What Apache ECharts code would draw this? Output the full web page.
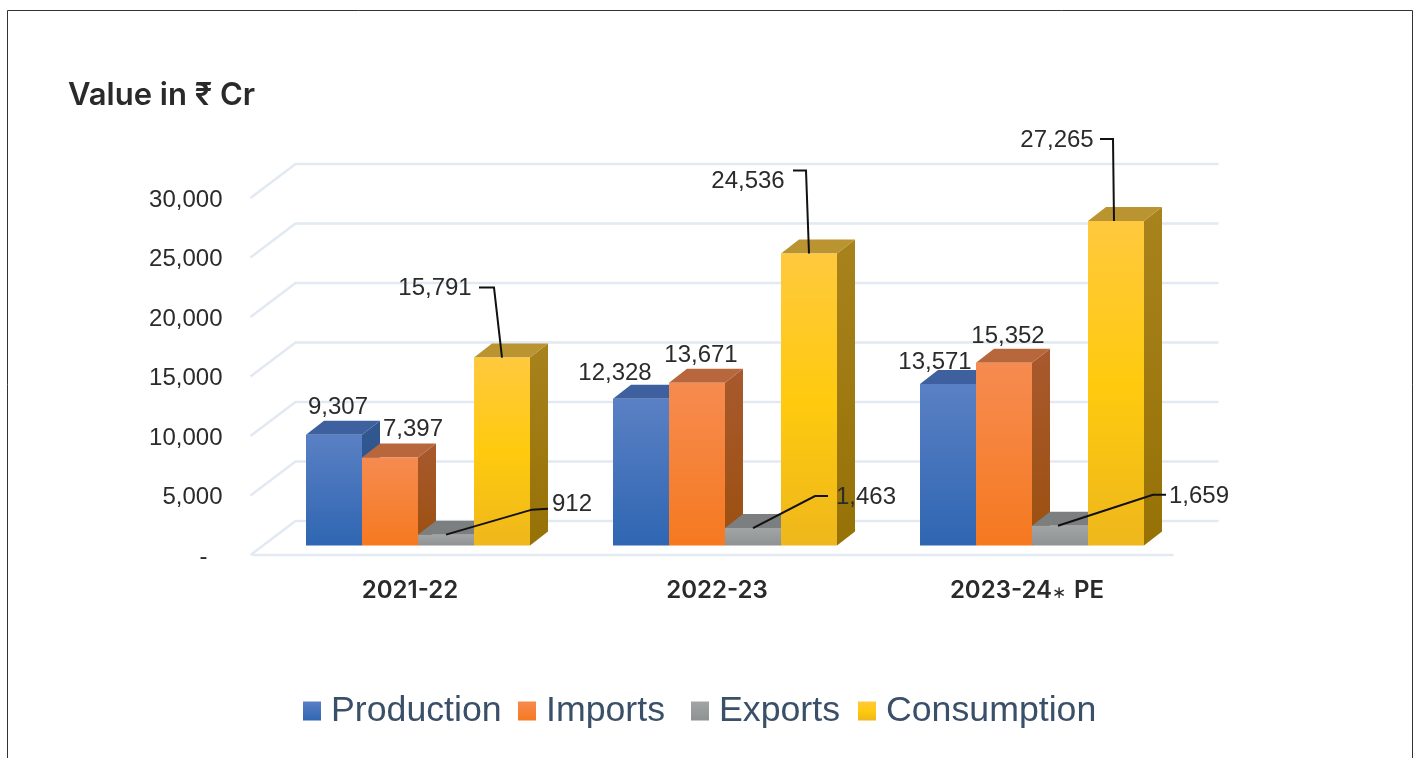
<!DOCTYPE html>
<html><head><meta charset="utf-8">
<style>html,body{margin:0;padding:0;background:#fff}#c{width:1419px;height:758px}</style>
<script src="https://cdn.jsdelivr.net/npm/echarts@6/dist/echarts.min.js"></script>
</head><body><div id="c"></div>
<script>
const categories = ['2021-22', '2022-23', '2023-24* PE'];
const seriesNames = ['Production', 'Imports', 'Exports', 'Consumption'];
const production = [9307, 12328, 13571];
const imports = [7397, 13671, 15352];
const exportsData = [912, 1463, 1659];
const consumption = [15791, 24536, 27265];
const yTicks = [0, 5000, 10000, 15000, 20000, 25000, 30000];

// layout only: label offset from a bar's front-top centre, and leader-line points
const labelOffset = [
  [[4,-27],[-26,-25],[-13,-22]],
  [[23,-28],[4,-27],[4,-26]],
  [[126,-30],[113,-31],[139,-29]],
  [[-67,-69],[-61,-72],[-59,-81]]
];
const leaders = [
  [null,null,null],
  [null,null,null],
  [[[0,0],[86,-25],[102,-26]],[[0,0],[62,-32],[75,-32]],[[-2,0],[93,-31],[106,-31]]],
  [[[-23,-70],[-8,-70],[0,0]],[[-16,-83],[-3,-83],[0,0]],[[-16,-82],[-3,-82],[-2,0]]]
];
const grad = (stops) => ({type:'linear',x:0,y:0,x2:0,y2:1,colorStops:stops.map((c,i)=>({offset:i/(stops.length-1),color:c}))});
const palette = [
  {front:['#5a80c4','#2f66b2'],top:'#3e609f',side:['#33588f','#23528f']},
  {front:['#f68b50','#f57920'],top:'#b8673c',side:['#a8592e','#9c500f']},
  {front:['#a2a5a5','#8f9292'],top:'#7c7f7f',side:['#6f7171','#6f7171']},
  {front:['#ffc93e','#ffca0e','#eeb71c'],top:'#b99430',side:['#a8821c','#967106']}
];
const legendLeft = [298, 513, 686, 853];
const allValues = [production, imports, exportsData, consumption];

const BAR_FRAC = 56/307, SHIFT_X = 8, SHIFT_Y = -11.5, WALL_SHIFT = -2, DX = 18, DY = -14;

function anchor(api, s, cat, val){
  const p = api.coord([cat, val]);
  const band = api.size([1,0])[0], w = band*BAR_FRAC;
  return {x: p[0] + SHIFT_X + (s-1.5)*w, y: p[1] + SHIFT_Y, w};
}
function barSeries(s){
  return {
    type:'custom', name:seriesNames[s], coordinateSystem:'cartesian2d', z:3,
    itemStyle:{color:grad(palette[s].front)},
    data: allValues[s].map((v,i)=>[i,v]),
    encode:{x:0,y:1},
    renderItem(params, api){
      const a = anchor(api, s, api.value(0), api.value(1));
      const base = anchor(api, s, api.value(0), 0);
      const l = a.x-a.w/2, r = a.x+a.w/2, t = a.y, b = base.y;
      return {type:'group',children:[
        {type:'polygon',shape:{points:[[r,t],[r+DX,t+DY],[r+DX,b+DY],[r,b]]},style:{fill:grad(palette[s].side)}},
        {type:'polygon',shape:{points:[[l,t],[l+DX,t+DY],[r+DX,t+DY],[r,t]]},style:{fill:palette[s].top}},
        {type:'rect',shape:{x:l,y:t,width:r-l,height:b-t},style:{fill:grad(palette[s].front)}}
      ]};
    }
  };
}
function labelSeries(s){
  return {
    type:'custom', coordinateSystem:'cartesian2d', z:6, silent:true,
    data: allValues[s].map((v,i)=>[i,v]),
    encode:{x:0,y:1},
    renderItem(params, api){
      const cat = api.value(0), val = api.value(1);
      const a = anchor(api, s, cat, val);
      const o = labelOffset[s][cat], children = [];
      const ld = leaders[s][cat];
      if(ld) children.push({type:'polyline',shape:{points:ld.map(q=>[a.x+q[0],a.y+q[1]])},style:{stroke:'#111',lineWidth:2,fill:null}});
      children.push({type:'text',x:a.x+o[0],y:a.y+o[1],style:{text:val.toLocaleString('en-US'),fill:'#2b2b2b',font:'24px "Liberation Sans"',align:'center',verticalAlign:'middle'}});
      return {type:'group',children};
    }
  };
}
const wallSeries = {
  type:'custom', coordinateSystem:'cartesian2d', z:1, silent:true,
  data: yTicks.map(v=>[0,v]), encode:{x:0,y:1},
  renderItem(params, api){
    const v = api.value(1), y = api.coord([0,v])[1] + WALL_SHIFT;
    const left = params.coordSys.x;
    const pts = [[left-6,y],[left+39,y-34],[left+962,y-34]];
    const kids = [{type:'polyline',shape:{points:pts},style:{stroke:'#e2e9f2',lineWidth:2.4,fill:null}}];
    if(v===0) kids.push({type:'line',shape:{x1:left-4,y1:y,x2:left+917,y2:y},style:{stroke:'#e2e9f2',lineWidth:2.4}});
    return {type:'group',children:kids};
  }
};

const xFont = {fontFamily:'Inter',fontSize:24,fontWeight:600,color:'#2a2a2a'};
const chart = echarts.init(document.getElementById('c'), null, {renderer:'canvas'});
chart.setOption({
  animation:false,
  backgroundColor:'#fff',
  title:{text:'Value in ₹ Cr',left:63,top:75,textStyle:{fontFamily:'Inter',fontSize:31,fontWeight:600,color:'#2a2a2a'}},
  graphic:[{type:'rect',shape:{x:7.5,y:10.5,width:1405,height:770},style:{fill:null,stroke:'#333',lineWidth:1},silent:true,z:0}],
  grid:{left:256.5,top:200,width:921,height:357},
  xAxis:{type:'category',data:categories,axisLine:{show:false},axisTick:{show:false},
    axisLabel:{margin:22,interval:0,hideOverlap:false,...xFont,
      formatter:v=>{
        if(!v.includes('*')) return v;
        const parts = v.split('*');
        return '{y|'+parts[0]+'}{s|∗}{z|'+parts[1]+'}';
      },
      rich:{
        y:{...xFont,padding:[0,0,0,6]},
        z:{...xFont},
        s:{fontFamily:'Inter',fontSize:17,fontWeight:500,color:'#2a2a2a',padding:[4,2,0,0]}
      }}},
  yAxis:{type:'value',min:0,max:30000,interval:5000,axisLine:{show:false},axisTick:{show:false},splitLine:{show:false},
    axisLabel:{margin:34,fontFamily:'Liberation Sans',fontSize:24,color:'#2b2b2b',
      formatter:v=>v===0?'{d|-}':v.toLocaleString('en-US'),
      rich:{d:{fontFamily:'Liberation Sans',fontSize:24,color:'#2b2b2b',padding:[0,15,0,0]}}}},
  legend: seriesNames.map((n,i)=>({
    data:[{name:n,icon:'rect',itemStyle:{color:grad(palette[i].front)}}],
    left:legendLeft[i],top:688,itemWidth:18,itemHeight:19,selectedMode:false,
    textStyle:{fontFamily:'Liberation Sans',fontSize:35.7,color:'#3a4f68',padding:[0,0,0,5]}
  })),
  series:[wallSeries,0,1,2,3].map(x=>typeof x==='number'?barSeries(x):x).concat([0,1,2,3].map(labelSeries))
});
</script></body></html>
